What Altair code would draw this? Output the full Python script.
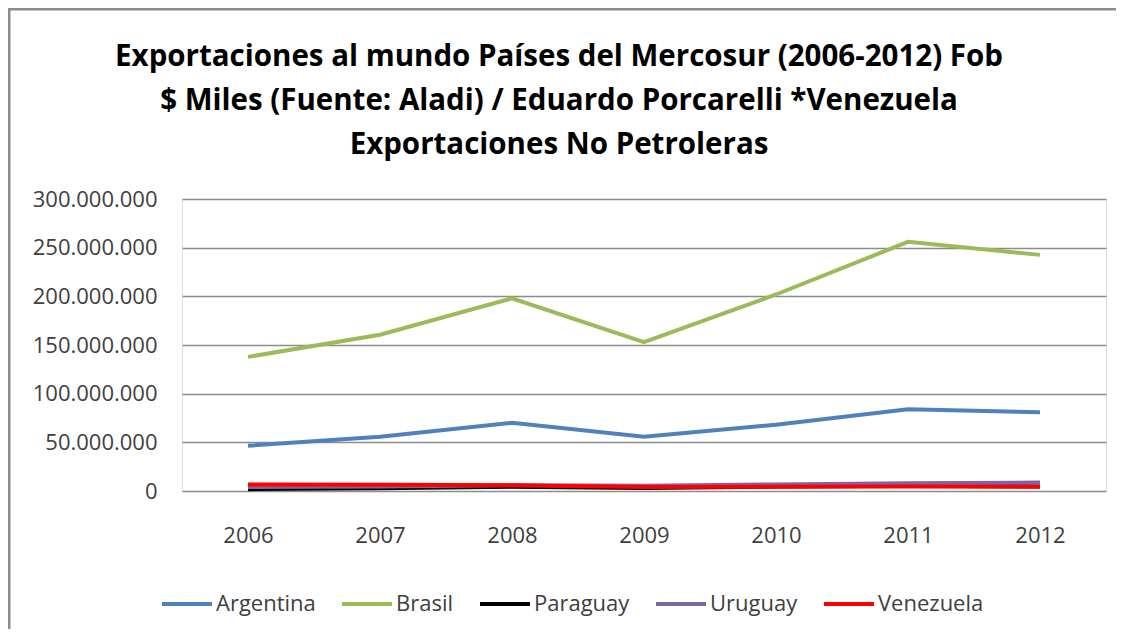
import altair as alt
import pandas as pd

years = ["2006", "2007", "2008", "2009", "2010", "2011", "2012"]
series = ["Argentina", "Brasil", "Paraguay", "Uruguay", "Venezuela"]
argentina = [46500000, 55800000, 70000000, 55700000, 68100000, 83900000, 80900000]
brasil = [137800000, 160600000, 197900000, 153000000, 201900000, 256000000, 242600000]
paraguay = [1900000, 2800000, 4400000, 3200000, 4500000, 5500000, 4700000]
uruguay = [4000000, 4500000, 5900000, 5400000, 6700000, 8000000, 8700000]
venezuela = [6700000, 6300000, 6000000, 4200000, 4300000, 4700000, 4400000]
colors = ["#4F81BD", "#9BBB59", "#000000", "#8064A2", "#FF0000"]

values = [argentina, brasil, paraguay, uruguay, venezuela]
rows = []
for i, s in enumerate(series):
    for y, v in zip(years, values[i]):
        rows.append({"Año": y, "Serie": s, "Valor": v, "orden": i})
df = pd.DataFrame(rows)

FONT = "Open Sans"
LBL = "#404040"

lines = alt.Chart(df).mark_line(strokeWidth=4).encode(
    x=alt.X("Año:N", sort=years,
            axis=alt.Axis(title=None, labelAngle=0, ticks=False, domain=False, grid=False,
                          labelFontSize=22, labelPadding=34, labelColor=LBL,
                          labelFont=FONT)),
    y=alt.Y("Valor:Q", scale=alt.Scale(domain=[0, 300000000], nice=False),
            axis=alt.Axis(title=None,
                          values=[0, 50000000, 100000000, 150000000, 200000000, 250000000, 300000000],
                          format=",d", ticks=False, domain=False, labelPadding=25,
                          labelFontSize=22, labelColor=LBL, labelFont=FONT,
                          gridColor="#8C8C8C", gridWidth=1.5)),
    color=alt.Color("Serie:N", sort=series,
                    scale=alt.Scale(domain=series, range=colors),
                    legend=alt.Legend(title=None, orient="none", direction="horizontal",
                                      legendX=-22, legendY=378,
                                      symbolType="stroke", symbolSize=2500, symbolStrokeWidth=4,
                                      labelFontSize=22, labelColor=LBL, labelFont=FONT,
                                      columnPadding=18, labelOffset=2)),
    order=alt.Order("orden:Q"),
    detail="Serie:N",
)

border = alt.Chart(pd.DataFrame({"a": [0]})).mark_rect(
    fillOpacity=0, stroke="#8C8C8C", strokeWidth=3
).encode(x=alt.value(-173), x2=alt.value(1100), y=alt.value(-190), y2=alt.value(600))

chart = alt.layer(border, lines).properties(
    width=924, height=292,
    title=alt.TitleParams(
        text=["Exportaciones al mundo Países del Mercosur (2006-2012) Fob",
              "$ Miles (Fuente: Aladi) / Eduardo Porcarelli *Venezuela",
              "Exportaciones No Petroleras"],
        font=FONT, fontSize=29.5, fontWeight="bold", color="#000000",
        anchor="middle", frame="group", dx=-85, lineHeight=44, offset=-153),
    padding={"left": 174, "top": 191, "right": 10, "bottom": 138},
    autosize=alt.AutoSizeParams(type="none"),
).configure_view(stroke="transparent", strokeWidth=0).configure(
    locale={"number": {"decimal": ",", "thousands": ".", "grouping": [3], "currency": ["$", ""]}}
)

chart.save("out.html", embed_options={"renderer": "svg", "actions": False})
